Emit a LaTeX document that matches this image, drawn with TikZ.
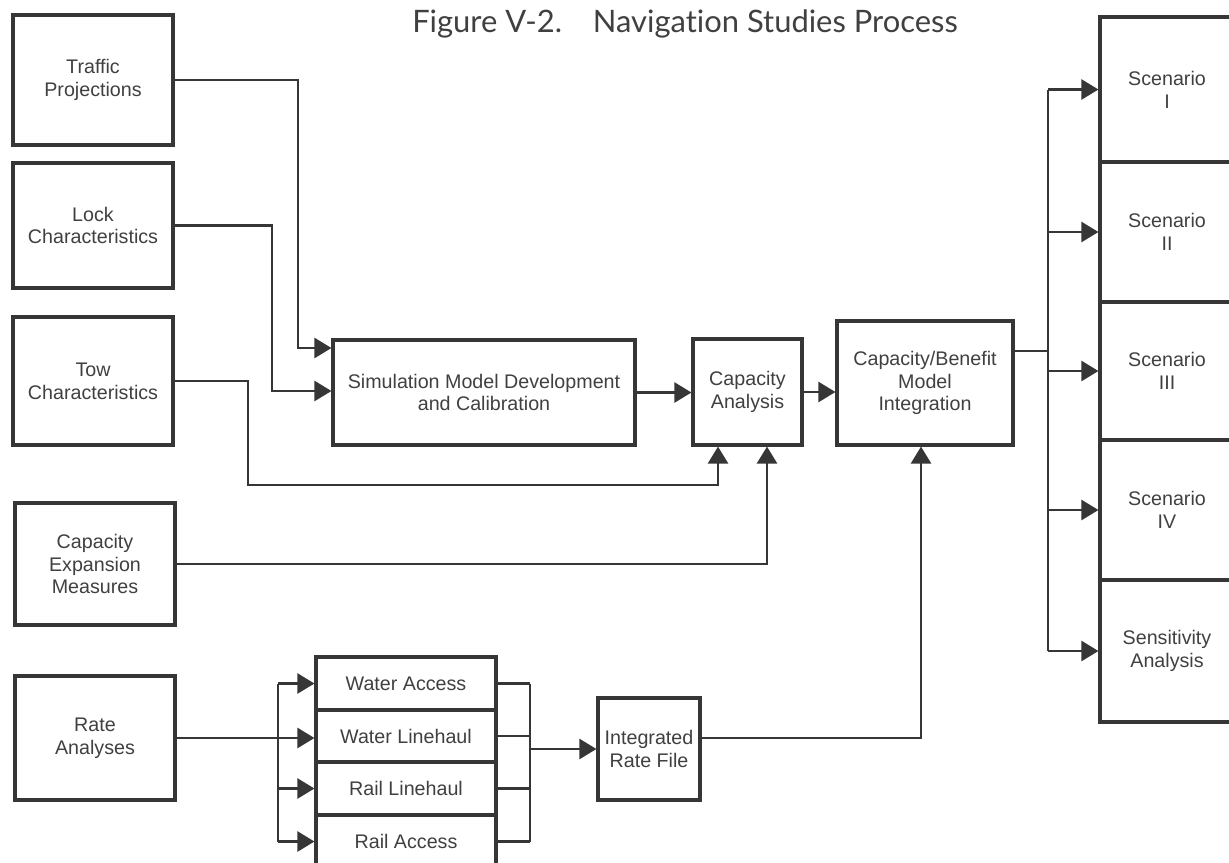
\documentclass[tikz,border=0pt]{standalone}
\usepackage{fontspec}
\setmainfont{Liberation Sans}
\newfontfamily\titlefont{Lato}[Ligatures=NoCommon]
\usetikzlibrary{arrows.meta}
\definecolor{ink}{HTML}{363636}
\definecolor{txt}{HTML}{404040}
\tikzset{
  box/.style={draw=ink, line width=1.8pt, inner sep=0pt, align=center, text=txt,
    font=\fontsize{11.2}{13}\selectfont},
  flow/.style={draw=ink, line width=1.4pt, -{Triangle[length=0.34cm,width=0.4cm]}},
  link/.style={draw=ink, line width=1.4pt},
}
\begin{document}
\begin{tikzpicture}[x=0.02cm, y=-0.02cm]
  \useasboundingbox (0,0) rectangle (1229,862);
  % Title
  \node[font=\titlefont\fontsize{17.6}{20}\selectfont, text=txt] (ttl) at (685,24)
    {Figure V-2.\quad Navigation Studies Process};

  % Inputs (left column)
  \node[box, minimum width=3.2cm, minimum height=2.6cm]  (trf) at (93,80)   {Traffic\\Projections};
  \node[box, minimum width=3.2cm, minimum height=2.5cm]  (lck) at (93,225.5) {Lock\\Characteristics};
  \node[box, minimum width=3.2cm, minimum height=2.56cm] (tow) at (93,381)  {Tow\\Characteristics};
  \node[box, minimum width=3.2cm, minimum height=2.44cm] (cem) at (95,564)  {Capacity\\Expansion\\Measures};
  \node[box, minimum width=3.2cm, minimum height=2.48cm] (rta) at (95,738)  {Rate\\Analyses};

  % Main chain
  \node[box, minimum width=6.04cm, minimum height=2.1cm]  (sim) at (484,392.5) {Simulation Model Development\\and Calibration};
  \node[box, minimum width=2.18cm, minimum height=2.12cm] (cap) at (747.5,392) {Capacity\\Analysis};
  \node[box, minimum width=3.52cm, minimum height=2.48cm] (cbi) at (925,383)   {Capacity/Benefit\\Model\\Integration};

  % Rate files
  \foreach \n/\y/\t in {wac/683.5/Water Access, wlh/736/Water Linehaul,
                        rlh/788.5/Rail Linehaul, rac/841.5/Rail Access}
    \node[box, minimum width=3.6cm, minimum height=1.06cm] (\n) at (406,\y) {\t};
  \node[box, minimum width=2.04cm, minimum height=2.04cm] (irf) at (649,749) {Integrated\\Rate File};

  % Outputs (right column)
  \foreach \n/\y/\h/\t in {s1/89.5/2.9/{Scenario\\I}, s2/232/2.8/{Scenario\\II},
                           s3/371/2.76/{Scenario\\III}, s4/510/2.8/{Scenario\\IV},
                           s5/651/2.84/{Sensitivity\\Analysis}}
    \node[box, minimum width=2.68cm, minimum height=\h cm] (\n) at (1167,\y) {\t};

  % Inputs into the simulation model
  \coordinate (j1) at (298,348);
  \coordinate (j2) at (272,391);
  \coordinate (j3) at (248,485);
  \draw[flow] (trf.east) -| (j1) -- (j1 -| sim.west);
  \draw[flow] (lck.east) -| (j2) -- (j2 -| sim.west);
  \draw[flow] (tow.east) -| (j3) -| ([xshift=-0.59cm]cap.south);
  \draw[flow] (cem.east) -| ([xshift=0.39cm]cap.south);

  % Chain
  \draw[flow] (sim.east) -- (sim.east -| cap.west);
  \draw[flow] (cap.east) -- (cap.east -| cbi.west);
  \draw[flow] ([yshift=0.22cm]irf.east) -| ([xshift=-0.08cm]cbi.south);

  % Rate analyses fan out and in
  \coordinate (lb) at (278,0);
  \coordinate (rb) at (530,0);
  \draw[flow] (rta.east) -- (rta.east -| wlh.west);
  \draw[link] (lb |- wac.west) -- (lb |- rac.west);
  \foreach \n in {wac,rlh,rac}
    \draw[flow] (lb |- \n.west) -- (\n.west);
  \foreach \n in {wac,wlh,rlh,rac}
    \draw[link] (\n.east) -- (\n.east -| rb);
  \draw[link] (rb |- wac.east) -- (rb |- rac.east);
  \draw[flow] (rb |- irf.west) -- (irf.west);

  % Scenarios
  \coordinate (bx) at (1048,0);
  \coordinate (cbo) at ([yshift=0.64cm]cbi.east);
  \draw[link] (cbo) -- (cbo -| bx);
  \draw[link] (bx |- s1.west) -- (bx |- s5.west);
  \foreach \n in {s1,s2,s3,s4,s5}
    \draw[flow] (bx |- \n.west) -- (\n.west);
\end{tikzpicture}
\end{document}
